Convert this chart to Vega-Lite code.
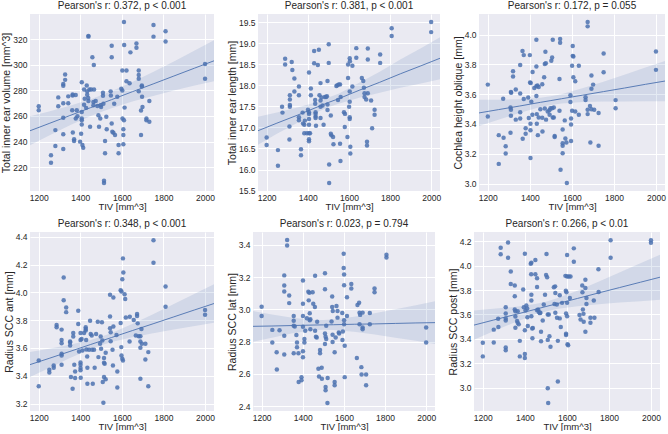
{
"$schema": "https://vega.github.io/schema/vega-lite/v6.json",
"padding": {"left": 1, "top": 1, "right": 0, "bottom": 0},
"background": "white",
"config": {
  "view": {"fill": "#EAEAF2", "stroke": null},
  "axis": {"grid": true, "gridColor": "white", "gridWidth": 1, "domain": false, "ticks": false, "tickSize": 0,
    "labelFont": "Liberation Sans", "labelFontSize": 8.5, "labelColor": "#262626",
    "titleFont": "Liberation Sans", "titleFontWeight": "normal", "titleColor": "#262626",
    "labelPadding": 3, "titlePadding": 1, "minExtent": 0, "labelOverlap": false, "labelFlush": false, "labelBound": false},
  "axisX": {"titleFontSize": 9.5, "labelPadding": 2, "titlePadding": 0, "format": "d"},
  "axisY": {"titleFontSize": 10.5},
  "title": {"font": "Liberation Sans", "fontSize": 10, "fontWeight": "normal", "color": "#262626", "offset": 3, "anchor": "middle"}
},
"datasets": {
"b1": [{"x":1158,"y":248.4,"lo":237.1,"hi":259.7},{"x":1250,"y":254.1,"lo":244.75,"hi":263.45},{"x":1350,"y":260.3,"lo":252.7,"hi":267.9},{"x":1450,"y":266.5,"lo":259.9,"hi":273.1},{"x":1500,"y":269.6,"lo":263.1,"hi":276.1},{"x":1550,"y":272.7,"lo":266.1,"hi":279.3},{"x":1650,"y":278.9,"lo":271.3,"hi":286.5},{"x":1750,"y":285.0,"lo":275.65,"hi":294.35},{"x":1850,"y":291.2,"lo":279.8,"hi":302.6},{"x":1950,"y":297.4,"lo":283.7,"hi":311.1},{"x":2043,"y":303.1,"lo":287.1,"hi":319.1}],
"b2": [{"x":1158,"y":16.92,"lo":16.59,"hi":17.25},{"x":1250,"y":17.10,"lo":16.85,"hi":17.35},{"x":1350,"y":17.29,"lo":17.11,"hi":17.47},{"x":1450,"y":17.49,"lo":17.37,"hi":17.61},{"x":1500,"y":17.59,"lo":17.48,"hi":17.71},{"x":1550,"y":17.68,"lo":17.56,"hi":17.80},{"x":1650,"y":17.88,"lo":17.70,"hi":18.06},{"x":1750,"y":18.07,"lo":17.82,"hi":18.32},{"x":1850,"y":18.27,"lo":17.94,"hi":18.61},{"x":1950,"y":18.46,"lo":18.04,"hi":18.88},{"x":2043,"y":18.64,"lo":18.14,"hi":19.14}],
"b3": [{"x":1158,"y":3.474,"lo":3.386,"hi":3.562},{"x":1250,"y":3.496,"lo":3.429,"hi":3.563},{"x":1350,"y":3.520,"lo":3.474,"hi":3.566},{"x":1450,"y":3.545,"lo":3.514,"hi":3.576},{"x":1500,"y":3.557,"lo":3.528,"hi":3.586},{"x":1550,"y":3.569,"lo":3.538,"hi":3.600},{"x":1650,"y":3.593,"lo":3.547,"hi":3.639},{"x":1750,"y":3.617,"lo":3.550,"hi":3.684},{"x":1850,"y":3.641,"lo":3.551,"hi":3.731},{"x":1950,"y":3.666,"lo":3.553,"hi":3.779},{"x":2043,"y":3.688,"lo":3.553,"hi":3.823}],
"b4": [{"x":1158,"y":3.480,"lo":3.390,"hi":3.570},{"x":1250,"y":3.525,"lo":3.456,"hi":3.594},{"x":1350,"y":3.575,"lo":3.527,"hi":3.623},{"x":1450,"y":3.625,"lo":3.592,"hi":3.658},{"x":1500,"y":3.650,"lo":3.620,"hi":3.680},{"x":1550,"y":3.675,"lo":3.642,"hi":3.708},{"x":1650,"y":3.725,"lo":3.677,"hi":3.773},{"x":1750,"y":3.774,"lo":3.705,"hi":3.843},{"x":1850,"y":3.824,"lo":3.732,"hi":3.916},{"x":1950,"y":3.874,"lo":3.758,"hi":3.990},{"x":2043,"y":3.920,"lo":3.782,"hi":4.058}],
"b5": [{"x":1158,"y":2.895,"lo":2.800,"hi":2.990},{"x":1250,"y":2.897,"lo":2.825,"hi":2.969},{"x":1350,"y":2.900,"lo":2.852,"hi":2.948},{"x":1450,"y":2.903,"lo":2.871,"hi":2.935},{"x":1500,"y":2.904,"lo":2.874,"hi":2.934},{"x":1550,"y":2.905,"lo":2.873,"hi":2.937},{"x":1650,"y":2.908,"lo":2.862,"hi":2.954},{"x":1750,"y":2.910,"lo":2.844,"hi":2.976},{"x":1850,"y":2.913,"lo":2.825,"hi":3.001},{"x":1950,"y":2.916,"lo":2.806,"hi":3.026},{"x":2043,"y":2.918,"lo":2.786,"hi":3.050}],
"b6": [{"x":1158,"y":3.513,"lo":3.393,"hi":3.633},{"x":1250,"y":3.554,"lo":3.462,"hi":3.646},{"x":1350,"y":3.598,"lo":3.534,"hi":3.662},{"x":1450,"y":3.642,"lo":3.599,"hi":3.685},{"x":1500,"y":3.665,"lo":3.625,"hi":3.705},{"x":1550,"y":3.687,"lo":3.644,"hi":3.730},{"x":1650,"y":3.731,"lo":3.667,"hi":3.795},{"x":1750,"y":3.776,"lo":3.684,"hi":3.868},{"x":1850,"y":3.820,"lo":3.697,"hi":3.943},{"x":1950,"y":3.864,"lo":3.709,"hi":4.019},{"x":2043,"y":3.905,"lo":3.721,"hi":4.089}],
"p1": [{"x":1200,"y":267.5},{"x":1200,"y":264.4},{"x":1259,"y":229.3},{"x":1259,"y":223.4},{"x":1280,"y":248.9},{"x":1280,"y":236.5},{"x":1294,"y":274.5},{"x":1294,"y":267.5},{"x":1318,"y":258.5},{"x":1318,"y":270},{"x":1318,"y":245.6},{"x":1318,"y":234.2},{"x":1318,"y":285},{"x":1318,"y":283.6},{"x":1327,"y":288.2},{"x":1327,"y":292.4},{"x":1342,"y":275.3},{"x":1342,"y":270},{"x":1361,"y":264.4},{"x":1363,"y":276},{"x":1363,"y":276.8},{"x":1364,"y":247},{"x":1370,"y":241.7},{"x":1370,"y":240.4},{"x":1378,"y":276.3},{"x":1378,"y":258},{"x":1383,"y":264.4},{"x":1386,"y":259.8},{"x":1399,"y":239.9},{"x":1404,"y":246},{"x":1407,"y":286.4},{"x":1407,"y":263},{"x":1407,"y":258},{"x":1407,"y":256.7},{"x":1407,"y":253.3},{"x":1410,"y":237.3},{"x":1414,"y":235.2},{"x":1418,"y":280.7},{"x":1421,"y":273.5},{"x":1418,"y":268.8},{"x":1428,"y":266.3},{"x":1431,"y":283.8},{"x":1433,"y":279.2},{"x":1433,"y":276.6},{"x":1439,"y":322.6},{"x":1439,"y":322},{"x":1438,"y":274},{"x":1439,"y":271.7},{"x":1444,"y":280.7},{"x":1452,"y":280.7},{"x":1466,"y":280.7},{"x":1447,"y":251.5},{"x":1458,"y":305.8},{"x":1465,"y":299.8},{"x":1463,"y":270.9},{"x":1463,"y":268.3},{"x":1474,"y":271.7},{"x":1482,"y":267.8},{"x":1487,"y":260.6},{"x":1490,"y":251.5},{"x":1498,"y":268.3},{"x":1500,"y":267},{"x":1496,"y":258},{"x":1509,"y":278.1},{"x":1509,"y":275.8},{"x":1511,"y":269.6},{"x":1514,"y":209.4},{"x":1514,"y":207.6},{"x":1519,"y":240.4},{"x":1519,"y":230.9},{"x":1525,"y":259.3},{"x":1527,"y":249.5},{"x":1546,"y":279.2},{"x":1547,"y":276},{"x":1551,"y":314.8},{"x":1551,"y":305.8},{"x":1551,"y":254.1},{"x":1554,"y":247.6},{"x":1559,"y":246.9},{"x":1563,"y":269.6},{"x":1567,"y":245.1},{"x":1578,"y":275},{"x":1584,"y":237.3},{"x":1584,"y":230.9},{"x":1602,"y":295.5},{"x":1597,"y":281.2},{"x":1602,"y":279.9},{"x":1603,"y":258},{"x":1610,"y":256.7},{"x":1607,"y":249.5},{"x":1607,"y":245.1},{"x":1607,"y":237.8},{"x":1610,"y":333.4},{"x":1611,"y":315.4},{"x":1613,"y":266.5},{"x":1622,"y":295.5},{"x":1622,"y":287.2},{"x":1637,"y":285.6},{"x":1641,"y":309.7},{"x":1670,"y":316.6},{"x":1670,"y":313.3},{"x":1681,"y":295.5},{"x":1681,"y":292.1},{"x":1681,"y":289},{"x":1681,"y":279.2},{"x":1692,"y":264.2},{"x":1692,"y":245.1},{"x":1696,"y":283.8},{"x":1696,"y":283},{"x":1697,"y":275},{"x":1699,"y":267},{"x":1718,"y":258},{"x":1718,"y":256.7},{"x":1732,"y":271.7},{"x":1732,"y":255.4},{"x":1752,"y":331.1},{"x":1752,"y":322},{"x":1810,"y":326.2},{"x":1810,"y":318.2},{"x":2000,"y":300.6},{"x":2000,"y":289}],
"p2": [{"x":1200,"y":16.76},{"x":1200,"y":16.58},{"x":1255,"y":16.46},{"x":1255,"y":16.09},{"x":1275,"y":17.49},{"x":1277,"y":17.35},{"x":1290,"y":18.63},{"x":1290,"y":18.49},{"x":1313,"y":17.76},{"x":1313,"y":17.66},{"x":1313,"y":17.53},{"x":1313,"y":17.49},{"x":1311,"y":17.02},{"x":1311,"y":16.71},{"x":1322,"y":18.55},{"x":1325,"y":18.36},{"x":1335,"y":18.16},{"x":1335,"y":17.85},{"x":1357,"y":17.97},{"x":1357,"y":17.76},{"x":1357,"y":17.24},{"x":1357,"y":17.17},{"x":1367,"y":16.48},{"x":1367,"y":16.34},{"x":1375,"y":17.35},{"x":1377,"y":17.09},{"x":1383,"y":17.06},{"x":1383,"y":16.86},{"x":1396,"y":16.86},{"x":1386,"y":17.16},{"x":1406,"y":18.3},{"x":1401,"y":17.42},{"x":1406,"y":17.36},{"x":1406,"y":17.32},{"x":1406,"y":17.2},{"x":1406,"y":17.06},{"x":1406,"y":16.86},{"x":1406,"y":16.72},{"x":1406,"y":16.67},{"x":1411,"y":16.86},{"x":1415,"y":17.76},{"x":1415,"y":17.92},{"x":1431,"y":18.81},{"x":1454,"y":18.84},{"x":1431,"y":18.52},{"x":1436,"y":17.65},{"x":1436,"y":17.56},{"x":1438,"y":17.36},{"x":1438,"y":17.32},{"x":1438,"y":17.26},{"x":1438,"y":17.22},{"x":1440,"y":17.04},{"x":1449,"y":18.48},{"x":1462,"y":18.05},{"x":1457,"y":17.76},{"x":1462,"y":17.64},{"x":1462,"y":17.49},{"x":1462,"y":17.22},{"x":1467,"y":17.71},{"x":1472,"y":17.52},{"x":1477,"y":17.06},{"x":1483,"y":17.72},{"x":1489,"y":17.72},{"x":1493,"y":17.74},{"x":1496,"y":18.1},{"x":1496,"y":17.54},{"x":1502,"y":18.97},{"x":1502,"y":18.53},{"x":1504,"y":16.12},{"x":1504,"y":15.68},{"x":1496,"y":17.41},{"x":1512,"y":17.28},{"x":1512,"y":16.85},{"x":1515,"y":16.81},{"x":1523,"y":16.77},{"x":1525,"y":16.6},{"x":1539,"y":17.98},{"x":1544,"y":18.0},{"x":1551,"y":18.02},{"x":1557,"y":18.02},{"x":1547,"y":17.65},{"x":1560,"y":17.72},{"x":1557,"y":16.61},{"x":1559,"y":16.2},{"x":1576,"y":17.36},{"x":1581,"y":17.32},{"x":1580,"y":17.01},{"x":1593,"y":16.77},{"x":1596,"y":18.17},{"x":1596,"y":18.49},{"x":1604,"y":18.64},{"x":1605,"y":18.57},{"x":1604,"y":17.85},{"x":1604,"y":17.61},{"x":1601,"y":17.49},{"x":1604,"y":17.24},{"x":1604,"y":17.2},{"x":1607,"y":16.54},{"x":1607,"y":16.38},{"x":1617,"y":18.46},{"x":1617,"y":17.97},{"x":1636,"y":18.88},{"x":1636,"y":18.65},{"x":1663,"y":18.17},{"x":1670,"y":18.1},{"x":1673,"y":17.94},{"x":1676,"y":17.81},{"x":1676,"y":17.72},{"x":1684,"y":17.66},{"x":1692,"y":17.81},{"x":1688,"y":16.66},{"x":1688,"y":16.57},{"x":1692,"y":18.87},{"x":1692,"y":18.61},{"x":1708,"y":17.64},{"x":1713,"y":16.98},{"x":1725,"y":17.42},{"x":1725,"y":17.3},{"x":1752,"y":18.73},{"x":1752,"y":18.53},{"x":1808,"y":19.35},{"x":1808,"y":19.17},{"x":2000,"y":19.5},{"x":2000,"y":19.26}],
"p3": [{"x":1200,"y":3.664},{"x":1200,"y":3.45},{"x":1252,"y":3.325},{"x":1252,"y":3.132},{"x":1273,"y":3.569},{"x":1275,"y":3.308},{"x":1285,"y":3.25},{"x":1285,"y":3.202},{"x":1308,"y":3.341},{"x":1310,"y":3.615},{"x":1311,"y":3.609},{"x":1308,"y":3.51},{"x":1310,"y":3.495},{"x":1310,"y":3.455},{"x":1320,"y":3.754},{"x":1320,"y":3.719},{"x":1333,"y":3.631},{"x":1333,"y":3.429},{"x":1354,"y":3.796},{"x":1354,"y":3.604},{"x":1354,"y":3.479},{"x":1354,"y":3.437},{"x":1365,"y":3.89},{"x":1371,"y":3.862},{"x":1366,"y":3.301},{"x":1371,"y":3.567},{"x":1380,"y":3.371},{"x":1380,"y":3.334},{"x":1392,"y":3.578},{"x":1395,"y":3.44},{"x":1400,"y":3.862},{"x":1401,"y":3.679},{"x":1404,"y":3.675},{"x":1403,"y":3.402},{"x":1403,"y":3.358},{"x":1403,"y":3.171},{"x":1407,"y":3.549},{"x":1412,"y":3.462},{"x":1413,"y":3.749},{"x":1421,"y":3.642},{"x":1431,"y":3.965},{"x":1431,"y":3.785},{"x":1431,"y":3.653},{"x":1436,"y":3.659},{"x":1442,"y":3.648},{"x":1431,"y":3.587},{"x":1433,"y":3.466},{"x":1433,"y":3.402},{"x":1438,"y":3.325},{"x":1442,"y":3.444},{"x":1450,"y":3.499},{"x":1459,"y":3.666},{"x":1459,"y":3.442},{"x":1460,"y":3.349},{"x":1468,"y":3.714},{"x":1471,"y":3.802},{"x":1476,"y":3.807},{"x":1474,"y":3.884},{"x":1471,"y":3.503},{"x":1477,"y":3.429},{"x":1485,"y":3.484},{"x":1493,"y":3.492},{"x":1498,"y":3.505},{"x":1494,"y":3.462},{"x":1502,"y":3.824},{"x":1506,"y":3.846},{"x":1509,"y":3.965},{"x":1506,"y":3.505},{"x":1509,"y":3.444},{"x":1514,"y":3.444},{"x":1514,"y":3.51},{"x":1518,"y":3.319},{"x":1518,"y":3.312},{"x":1541,"y":3.701},{"x":1541,"y":3.488},{"x":1544,"y":3.971},{"x":1544,"y":3.945},{"x":1546,"y":3.092},{"x":1556,"y":3.363},{"x":1556,"y":3.27},{"x":1556,"y":3.253},{"x":1556,"y":3.204},{"x":1566,"y":3.424},{"x":1569,"y":3.303},{"x":1574,"y":3.275},{"x":1576,"y":3.004},{"x":1593,"y":3.593},{"x":1593,"y":3.547},{"x":1596,"y":3.437},{"x":1596,"y":3.396},{"x":1596,"y":3.286},{"x":1601,"y":3.791},{"x":1604,"y":3.923},{"x":1604,"y":3.857},{"x":1607,"y":3.853},{"x":1607,"y":3.714},{"x":1601,"y":3.488},{"x":1616,"y":3.686},{"x":1616,"y":3.484},{"x":1633,"y":3.791},{"x":1633,"y":3.462},{"x":1665,"y":3.58},{"x":1665,"y":3.56},{"x":1675,"y":3.495},{"x":1675,"y":3.466},{"x":1675,"y":4.084},{"x":1675,"y":4.055},{"x":1686,"y":3.521},{"x":1688,"y":3.275},{"x":1693,"y":3.637},{"x":1693,"y":3.499},{"x":1693,"y":3.725},{"x":1701,"y":3.664},{"x":1706,"y":3.495},{"x":1727,"y":3.473},{"x":1727,"y":3.253},{"x":1751,"y":3.873},{"x":1751,"y":3.747},{"x":1808,"y":3.56},{"x":1808,"y":3.505},{"x":2000,"y":3.886},{"x":2000,"y":3.763}],
"p4": [{"x":1200,"y":3.51},{"x":1200,"y":3.324},{"x":1251,"y":3.443},{"x":1251,"y":3.424},{"x":1272,"y":3.474},{"x":1272,"y":3.458},{"x":1286,"y":3.765},{"x":1286,"y":3.749},{"x":1310,"y":3.732},{"x":1310,"y":3.658},{"x":1310,"y":3.634},{"x":1310,"y":3.558},{"x":1310,"y":3.546},{"x":1310,"y":3.479},{"x":1320,"y":4.107},{"x":1320,"y":3.944},{"x":1332,"y":3.892},{"x":1332,"y":3.858},{"x":1351,"y":3.646},{"x":1351,"y":3.639},{"x":1351,"y":3.618},{"x":1355,"y":3.391},{"x":1363,"y":3.307},{"x":1366,"y":3.708},{"x":1366,"y":3.682},{"x":1371,"y":3.479},{"x":1375,"y":3.431},{"x":1375,"y":3.384},{"x":1390,"y":3.868},{"x":1390,"y":3.773},{"x":1394,"y":3.575},{"x":1401,"y":3.658},{"x":1401,"y":3.708},{"x":1401,"y":3.496},{"x":1401,"y":3.479},{"x":1401,"y":3.455},{"x":1401,"y":3.439},{"x":1402,"y":3.386},{"x":1406,"y":3.665},{"x":1410,"y":3.582},{"x":1418,"y":3.708},{"x":1426,"y":3.749},{"x":1426,"y":3.737},{"x":1426,"y":3.725},{"x":1428,"y":3.658},{"x":1429,"y":3.589},{"x":1433,"y":3.539},{"x":1434,"y":3.343},{"x":1434,"y":3.458},{"x":1442,"y":3.587},{"x":1447,"y":3.796},{"x":1450,"y":3.701},{"x":1455,"y":3.689},{"x":1457,"y":3.587},{"x":1460,"y":3.343},{"x":1466,"y":3.587},{"x":1469,"y":3.458},{"x":1476,"y":3.701},{"x":1484,"y":3.789},{"x":1487,"y":3.534},{"x":1495,"y":3.63},{"x":1498,"y":3.682},{"x":1500,"y":3.594},{"x":1504,"y":3.785},{"x":1506,"y":3.653},{"x":1508,"y":3.355},{"x":1514,"y":3.391},{"x":1511,"y":3.205},{"x":1514,"y":3.527},{"x":1514,"y":3.494},{"x":1517,"y":3.486},{"x":1522,"y":3.565},{"x":1522,"y":3.374},{"x":1543,"y":3.983},{"x":1543,"y":3.827},{"x":1543,"y":3.742},{"x":1546,"y":3.713},{"x":1546,"y":3.649},{"x":1559,"y":3.963},{"x":1559,"y":3.754},{"x":1555,"y":3.587},{"x":1557,"y":3.474},{"x":1574,"y":3.694},{"x":1578,"y":3.431},{"x":1578,"y":3.315},{"x":1594,"y":3.78},{"x":1594,"y":4.016},{"x":1598,"y":4.006},{"x":1597,"y":3.606},{"x":1598,"y":3.546},{"x":1602,"y":3.522},{"x":1605,"y":3.51},{"x":1602,"y":4.095},{"x":1605,"y":4.245},{"x":1607,"y":4.143},{"x":1613,"y":3.987},{"x":1616,"y":3.952},{"x":1619,"y":3.82},{"x":1637,"y":3.646},{"x":1638,"y":3.825},{"x":1657,"y":3.801},{"x":1667,"y":3.689},{"x":1673,"y":3.844},{"x":1673,"y":3.83},{"x":1676,"y":3.777},{"x":1681,"y":3.684},{"x":1689,"y":3.684},{"x":1689,"y":3.646},{"x":1689,"y":3.601},{"x":1689,"y":3.379},{"x":1694,"y":3.737},{"x":1696,"y":3.63},{"x":1713,"y":3.63},{"x":1713,"y":3.517},{"x":1727,"y":3.57},{"x":1727,"y":3.324},{"x":1752,"y":4.376},{"x":1752,"y":4.214},{"x":1810,"y":4.042},{"x":1810,"y":3.897},{"x":2000,"y":3.873},{"x":2000,"y":3.839}],
"p5": [{"x":1200,"y":3.017},{"x":1200,"y":2.959},{"x":1252,"y":2.873},{"x":1252,"y":2.795},{"x":1273,"y":2.734},{"x":1274,"y":2.627},{"x":1287,"y":2.871},{"x":1310,"y":3.211},{"x":1310,"y":3.148},{"x":1310,"y":3.111},{"x":1310,"y":2.836},{"x":1310,"y":2.72},{"x":1324,"y":3.43},{"x":1324,"y":3.396},{"x":1334,"y":3.086},{"x":1334,"y":3.039},{"x":1356,"y":2.959},{"x":1356,"y":2.929},{"x":1356,"y":2.898},{"x":1361,"y":2.894},{"x":1356,"y":2.728},{"x":1369,"y":2.841},{"x":1372,"y":2.795},{"x":1372,"y":2.765},{"x":1379,"y":2.728},{"x":1380,"y":2.55},{"x":1394,"y":2.58},{"x":1394,"y":2.56},{"x":1401,"y":3.179},{"x":1401,"y":3.035},{"x":1401,"y":2.959},{"x":1401,"y":2.892},{"x":1401,"y":2.74},{"x":1401,"y":2.703},{"x":1408,"y":2.816},{"x":1408,"y":2.795},{"x":1412,"y":2.867},{"x":1420,"y":2.945},{"x":1427,"y":3.109},{"x":1432,"y":3.103},{"x":1429,"y":3.056},{"x":1434,"y":2.976},{"x":1434,"y":2.933},{"x":1437,"y":2.939},{"x":1437,"y":2.877},{"x":1448,"y":3.107},{"x":1451,"y":3.035},{"x":1459,"y":3.015},{"x":1460,"y":3.209},{"x":1460,"y":2.867},{"x":1464,"y":2.83},{"x":1468,"y":2.826},{"x":1470,"y":2.923},{"x":1476,"y":2.632},{"x":1479,"y":2.584},{"x":1484,"y":2.748},{"x":1484,"y":2.728},{"x":1492,"y":2.638},{"x":1493,"y":2.57},{"x":1508,"y":3.224},{"x":1508,"y":3.125},{"x":1508,"y":2.851},{"x":1511,"y":2.83},{"x":1508,"y":2.785},{"x":1514,"y":2.898},{"x":1514,"y":2.816},{"x":1511,"y":2.519},{"x":1511,"y":2.498},{"x":1521,"y":2.574},{"x":1520,"y":2.42},{"x":1540,"y":2.925},{"x":1543,"y":3.08},{"x":1543,"y":3.015},{"x":1546,"y":2.99},{"x":1545,"y":2.843},{"x":1545,"y":2.798},{"x":1555,"y":2.55},{"x":1555,"y":2.529},{"x":1555,"y":2.734},{"x":1560,"y":2.826},{"x":1564,"y":3.021},{"x":1569,"y":2.99},{"x":1569,"y":2.949},{"x":1575,"y":2.857},{"x":1577,"y":2.851},{"x":1592,"y":2.978},{"x":1593,"y":2.81},{"x":1595,"y":2.863},{"x":1599,"y":3.345},{"x":1599,"y":3.257},{"x":1601,"y":3.216},{"x":1601,"y":3.15},{"x":1601,"y":2.933},{"x":1601,"y":2.908},{"x":1604,"y":2.775},{"x":1604,"y":2.58},{"x":1615,"y":3.076},{"x":1615,"y":2.959},{"x":1636,"y":3.158},{"x":1636,"y":3.13},{"x":1663,"y":2.699},{"x":1666,"y":3.027},{"x":1674,"y":3.041},{"x":1676,"y":2.98},{"x":1679,"y":2.966},{"x":1676,"y":2.908},{"x":1685,"y":2.642},{"x":1686,"y":2.597},{"x":1691,"y":2.98},{"x":1691,"y":2.888},{"x":1691,"y":2.877},{"x":1708,"y":2.597},{"x":1708,"y":2.529},{"x":1726,"y":2.978},{"x":1726,"y":2.908},{"x":1749,"y":3.13},{"x":1749,"y":3.107},{"x":1807,"y":3.339},{"x":1807,"y":3.322},{"x":2000,"y":2.888},{"x":2000,"y":2.795}],
"p6": [{"x":1200,"y":3.368},{"x":1200,"y":3.257},{"x":1252,"y":3.476},{"x":1252,"y":3.37},{"x":1273,"y":3.565},{"x":1274,"y":3.497},{"x":1285,"y":4.146},{"x":1285,"y":4.092},{"x":1309,"y":3.659},{"x":1309,"y":3.608},{"x":1309,"y":3.568},{"x":1309,"y":3.551},{"x":1309,"y":3.33},{"x":1309,"y":3.308},{"x":1320,"y":4.189},{"x":1320,"y":4.065},{"x":1333,"y":3.951},{"x":1333,"y":3.849},{"x":1352,"y":3.749},{"x":1352,"y":3.838},{"x":1352,"y":3.641},{"x":1355,"y":3.627},{"x":1355,"y":3.584},{"x":1355,"y":3.492},{"x":1363,"y":3.546},{"x":1366,"y":3.532},{"x":1371,"y":3.519},{"x":1366,"y":3.627},{"x":1376,"y":3.384},{"x":1376,"y":3.257},{"x":1392,"y":3.805},{"x":1395,"y":3.659},{"x":1400,"y":4.097},{"x":1400,"y":3.47},{"x":1400,"y":3.276},{"x":1400,"y":3.243},{"x":1403,"y":3.632},{"x":1407,"y":3.673},{"x":1411,"y":3.649},{"x":1412,"y":3.578},{"x":1414,"y":3.505},{"x":1428,"y":4.016},{"x":1431,"y":4.024},{"x":1430,"y":3.93},{"x":1431,"y":3.762},{"x":1431,"y":3.714},{"x":1431,"y":3.586},{"x":1435,"y":3.486},{"x":1438,"y":3.489},{"x":1436,"y":3.405},{"x":1450,"y":4.046},{"x":1450,"y":3.93},{"x":1458,"y":3.897},{"x":1458,"y":3.824},{"x":1458,"y":3.635},{"x":1463,"y":3.641},{"x":1466,"y":3.622},{"x":1471,"y":3.611},{"x":1474,"y":3.614},{"x":1477,"y":3.459},{"x":1477,"y":3.381},{"x":1485,"y":3.551},{"x":1490,"y":3.681},{"x":1496,"y":3.762},{"x":1501,"y":3.924},{"x":1503,"y":4.095},{"x":1506,"y":3.905},{"x":1509,"y":3.6},{"x":1514,"y":3.6},{"x":1509,"y":3.392},{"x":1509,"y":2.997},{"x":1511,"y":2.876},{"x":1517,"y":3.422},{"x":1522,"y":3.335},{"x":1538,"y":3.822},{"x":1541,"y":3.686},{"x":1544,"y":3.83},{"x":1545,"y":3.614},{"x":1545,"y":3.776},{"x":1552,"y":3.681},{"x":1553,"y":3.573},{"x":1557,"y":3.384},{"x":1557,"y":3.051},{"x":1566,"y":3.757},{"x":1566,"y":3.568},{"x":1571,"y":3.497},{"x":1577,"y":3.695},{"x":1593,"y":3.916},{"x":1595,"y":3.795},{"x":1598,"y":3.781},{"x":1596,"y":3.608},{"x":1596,"y":3.443},{"x":1596,"y":3.432},{"x":1601,"y":4.086},{"x":1601,"y":3.911},{"x":1601,"y":3.695},{"x":1601,"y":3.586},{"x":1603,"y":3.357},{"x":1606,"y":3.349},{"x":1609,"y":3.911},{"x":1617,"y":3.911},{"x":1614,"y":3.735},{"x":1633,"y":4.141},{"x":1633,"y":4.032},{"x":1660,"y":3.595},{"x":1665,"y":3.559},{"x":1673,"y":3.838},{"x":1674,"y":3.781},{"x":1676,"y":3.641},{"x":1679,"y":3.605},{"x":1680,"y":3.541},{"x":1688,"y":3.459},{"x":1688,"y":3.884},{"x":1688,"y":3.816},{"x":1693,"y":3.735},{"x":1693,"y":3.686},{"x":1712,"y":3.573},{"x":1712,"y":3.532},{"x":1728,"y":3.714},{"x":1731,"y":3.573},{"x":1750,"y":3.97},{"x":1751,"y":3.784},{"x":1808,"y":4.208},{"x":1808,"y":4.065},{"x":2000,"y":4.208},{"x":2000,"y":4.186}]
},
"spacing": 8,
"vconcat": [
{"spacing": 11, "hconcat": [
 {"width": 184, "height": 177, "title": "Pearson's r: 0.372, p < 0.001",
  "encoding": {"x": {"field": "x", "type": "quantitative", "scale": {"domain": [1158, 2043], "nice": false, "zero": false}, "axis": {"values": [1200, 1400, 1600, 1800, 2000], "tickCount": 20, "labelOverlap": false, "title": "TIV [mm^3]"}}},
  "layer": [
   {"data": {"name": "b1"}, "mark": {"type": "area", "color": "#4C72B0", "opacity": 0.15}, "encoding": {"y": {"field": "lo", "type": "quantitative", "scale": {"domain": [201.3, 339.7], "nice": false, "zero": false}, "axis": {"values": [220, 240, 260, 280, 300, 320], "tickCount": 20, "labelOverlap": false, "format": "d", "title": "Total inner ear volume [mm^3]"}}, "y2": {"field": "hi"}}},
   {"data": {"name": "b1"}, "mark": {"type": "line", "color": "#4C72B0", "strokeWidth": 0.9}, "encoding": {"y": {"field": "y", "type": "quantitative", "title": "Total inner ear volume [mm^3]"}}},
   {"data": {"name": "p1"}, "mark": {"type": "circle", "color": "#4C72B0", "size": 20, "opacity": 0.85}, "encoding": {"y": {"field": "y", "type": "quantitative", "title": "Total inner ear volume [mm^3]"}}}
  ]},
 {"width": 182, "height": 177, "title": "Pearson's r: 0.381, p < 0.001",
  "encoding": {"x": {"field": "x", "type": "quantitative", "scale": {"domain": [1158, 2043], "nice": false, "zero": false}, "axis": {"values": [1200, 1400, 1600, 1800, 2000], "tickCount": 20, "labelOverlap": false, "title": "TIV [mm^3]"}}},
  "layer": [
   {"data": {"name": "b2"}, "mark": {"type": "area", "color": "#4C72B0", "opacity": 0.15}, "encoding": {"y": {"field": "lo", "type": "quantitative", "scale": {"domain": [15.49, 19.69], "nice": false, "zero": false}, "axis": {"values": [15.5, 16, 16.5, 17, 17.5, 18, 18.5, 19, 19.5], "tickCount": 20, "labelOverlap": false, "format": ".1f", "title": "Total inner ear length [mm]"}}, "y2": {"field": "hi"}}},
   {"data": {"name": "b2"}, "mark": {"type": "line", "color": "#4C72B0", "strokeWidth": 0.9}, "encoding": {"y": {"field": "y", "type": "quantitative", "title": "Total inner ear length [mm]"}}},
   {"data": {"name": "p2"}, "mark": {"type": "circle", "color": "#4C72B0", "size": 20, "opacity": 0.85}, "encoding": {"y": {"field": "y", "type": "quantitative", "title": "Total inner ear length [mm]"}}}
  ]},
 {"width": 186, "height": 177, "title": "Pearson's r: 0.172, p = 0.055",
  "encoding": {"x": {"field": "x", "type": "quantitative", "scale": {"domain": [1158, 2043], "nice": false, "zero": false}, "axis": {"values": [1200, 1400, 1600, 1800, 2000], "tickCount": 20, "labelOverlap": false, "title": "TIV [mm^3]"}}},
  "layer": [
   {"data": {"name": "b3"}, "mark": {"type": "area", "color": "#4C72B0", "opacity": 0.15}, "encoding": {"y": {"field": "lo", "type": "quantitative", "scale": {"domain": [2.95, 4.138], "nice": false, "zero": false}, "axis": {"values": [3.0, 3.2, 3.4, 3.6, 3.8, 4.0], "tickCount": 20, "labelOverlap": false, "format": ".1f", "title": "Cochlea height oblique [mm]"}}, "y2": {"field": "hi"}}},
   {"data": {"name": "b3"}, "mark": {"type": "line", "color": "#4C72B0", "strokeWidth": 0.9}, "encoding": {"y": {"field": "y", "type": "quantitative", "title": "Cochlea height oblique [mm]"}}},
   {"data": {"name": "p3"}, "mark": {"type": "circle", "color": "#4C72B0", "size": 20, "opacity": 0.85}, "encoding": {"y": {"field": "y", "type": "quantitative", "title": "Cochlea height oblique [mm]"}}}
  ]}
]},
{"spacing": 11, "hconcat": [
 {"width": 184, "height": 179, "title": "Pearson's r: 0.348, p < 0.001",
  "encoding": {"x": {"field": "x", "type": "quantitative", "scale": {"domain": [1158, 2043], "nice": false, "zero": false}, "axis": {"values": [1200, 1400, 1600, 1800, 2000], "tickCount": 20, "labelOverlap": false, "title": "TIV [mm^3]"}}},
  "layer": [
   {"data": {"name": "b4"}, "mark": {"type": "area", "color": "#4C72B0", "opacity": 0.15}, "encoding": {"y": {"field": "lo", "type": "quantitative", "scale": {"domain": [3.146, 4.435], "nice": false, "zero": false}, "axis": {"values": [3.2, 3.4, 3.6, 3.8, 4.0, 4.2, 4.4], "tickCount": 20, "labelOverlap": false, "format": ".1f", "title": "Radius SCC ant [mm]"}}, "y2": {"field": "hi"}}},
   {"data": {"name": "b4"}, "mark": {"type": "line", "color": "#4C72B0", "strokeWidth": 0.9}, "encoding": {"y": {"field": "y", "type": "quantitative", "title": "Radius SCC ant [mm]"}}},
   {"data": {"name": "p4"}, "mark": {"type": "circle", "color": "#4C72B0", "size": 20, "opacity": 0.85}, "encoding": {"y": {"field": "y", "type": "quantitative", "title": "Radius SCC ant [mm]"}}}
  ]},
 {"width": 182, "height": 179, "title": "Pearson's r: 0.023, p = 0.794",
  "encoding": {"x": {"field": "x", "type": "quantitative", "scale": {"domain": [1158, 2043], "nice": false, "zero": false}, "axis": {"values": [1200, 1400, 1600, 1800, 2000], "tickCount": 20, "labelOverlap": false, "title": "TIV [mm^3]"}}},
  "layer": [
   {"data": {"name": "b5"}, "mark": {"type": "area", "color": "#4C72B0", "opacity": 0.15}, "encoding": {"y": {"field": "lo", "type": "quantitative", "scale": {"domain": [2.37, 3.48], "nice": false, "zero": false}, "axis": {"values": [2.4, 2.6, 2.8, 3.0, 3.2, 3.4], "tickCount": 20, "labelOverlap": false, "format": ".1f", "title": "Radius SCC lat [mm]"}}, "y2": {"field": "hi"}}},
   {"data": {"name": "b5"}, "mark": {"type": "line", "color": "#4C72B0", "strokeWidth": 0.9}, "encoding": {"y": {"field": "y", "type": "quantitative", "title": "Radius SCC lat [mm]"}}},
   {"data": {"name": "p5"}, "mark": {"type": "circle", "color": "#4C72B0", "size": 20, "opacity": 0.85}, "encoding": {"y": {"field": "y", "type": "quantitative", "title": "Radius SCC lat [mm]"}}}
  ]},
 {"width": 186, "height": 179, "title": "Pearson's r: 0.266, p < 0.01",
  "encoding": {"x": {"field": "x", "type": "quantitative", "scale": {"domain": [1158, 2043], "nice": false, "zero": false}, "axis": {"values": [1200, 1400, 1600, 1800, 2000], "tickCount": 20, "labelOverlap": false, "title": "TIV [mm^3]"}}},
  "layer": [
   {"data": {"name": "b6"}, "mark": {"type": "area", "color": "#4C72B0", "opacity": 0.15}, "encoding": {"y": {"field": "lo", "type": "quantitative", "scale": {"domain": [2.81, 4.275], "nice": false, "zero": false}, "axis": {"values": [3.0, 3.2, 3.4, 3.6, 3.8, 4.0, 4.2], "tickCount": 20, "labelOverlap": false, "format": ".1f", "title": "Radius SCC post [mm]"}}, "y2": {"field": "hi"}}},
   {"data": {"name": "b6"}, "mark": {"type": "line", "color": "#4C72B0", "strokeWidth": 0.9}, "encoding": {"y": {"field": "y", "type": "quantitative", "title": "Radius SCC post [mm]"}}},
   {"data": {"name": "p6"}, "mark": {"type": "circle", "color": "#4C72B0", "size": 20, "opacity": 0.85}, "encoding": {"y": {"field": "y", "type": "quantitative", "title": "Radius SCC post [mm]"}}}
  ]}
]}
]
}
